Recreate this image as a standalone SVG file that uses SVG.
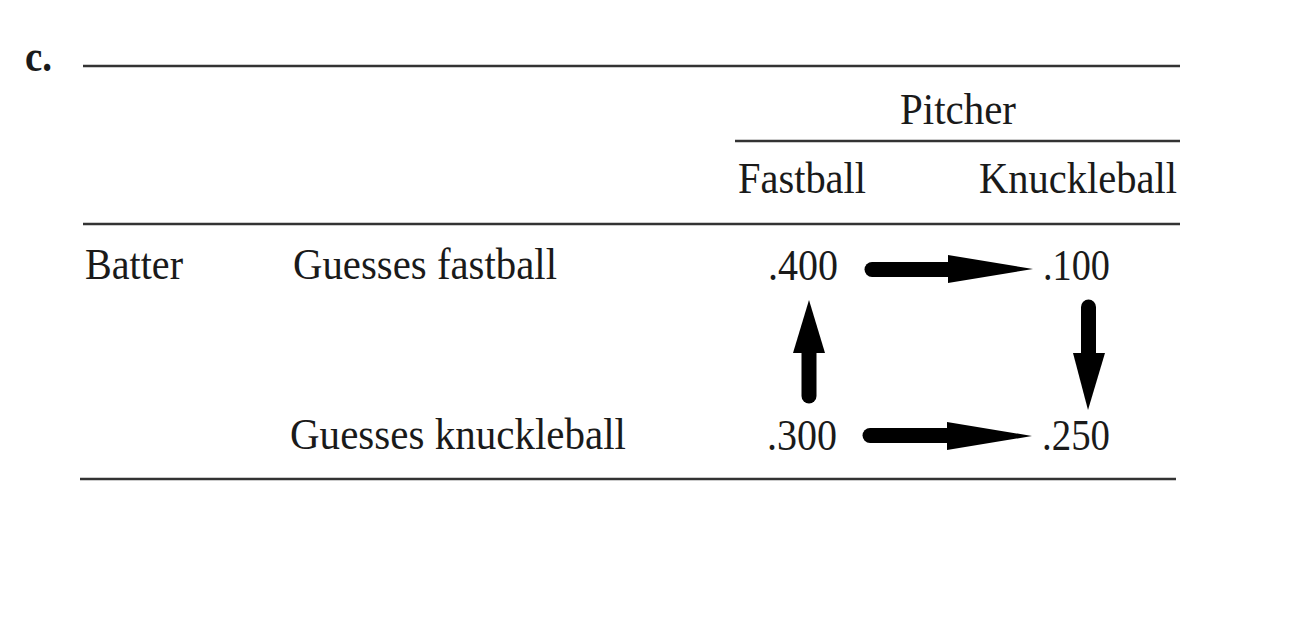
<svg xmlns="http://www.w3.org/2000/svg" width="1291" height="627" viewBox="0 0 1291 627">
<style>
text{font-family:"Liberation Serif","Times New Roman",serif;font-size:44px;fill:#1a1a1a}
.rule{stroke:#333;stroke-width:2.5}
.shaft{stroke:#000;stroke-width:15;stroke-linecap:round}
.head{fill:#000}
</style>
<rect width="1291" height="627" fill="#fff"/>
<g id="title"><text x="25" y="71" font-weight="bold" textLength="27" lengthAdjust="spacingAndGlyphs">c.</text></g>
<g id="rules">
<line class="rule" x1="83" y1="66" x2="1180" y2="66"/>
<line class="rule" x1="735" y1="141" x2="1180" y2="141"/>
<line class="rule" x1="83" y1="224" x2="1180" y2="224"/>
<line class="rule" x1="80" y1="479" x2="1176" y2="479"/>
</g>
<g id="pitcher"><text x="900" y="124" textLength="116" lengthAdjust="spacingAndGlyphs">Pitcher</text></g>
<g id="col-fastball"><text x="738" y="193" textLength="128" lengthAdjust="spacingAndGlyphs">Fastball</text></g>
<g id="col-knuckleball"><text x="979" y="193" textLength="198" lengthAdjust="spacingAndGlyphs">Knuckleball</text></g>
<g id="batter"><text x="85" y="279" textLength="98" lengthAdjust="spacingAndGlyphs">Batter</text></g>
<g id="row-fastball"><text x="293" y="279" textLength="264" lengthAdjust="spacingAndGlyphs">Guesses fastball</text></g>
<g id="row-knuckleball"><text x="290" y="449" textLength="336" lengthAdjust="spacingAndGlyphs">Guesses knuckleball</text></g>
<g id="v400"><text x="768" y="280" textLength="70" lengthAdjust="spacingAndGlyphs">.400</text></g>
<g id="v100"><text x="1043" y="280" textLength="67" lengthAdjust="spacingAndGlyphs">.100</text></g>
<g id="v300"><text x="767" y="450" textLength="70" lengthAdjust="spacingAndGlyphs">.300</text></g>
<g id="v250"><text x="1042" y="450" textLength="68" lengthAdjust="spacingAndGlyphs">.250</text></g>
<g id="connectors">
<line class="shaft" x1="872" y1="269.5" x2="950" y2="269.5"/>
<polygon class="head" points="948,255 1033,269 948,283"/>
<line class="shaft" x1="870" y1="435.5" x2="950" y2="435.5"/>
<polygon class="head" points="947,422 1032,436 947,450"/>
<line class="shaft" x1="809" y1="396" x2="809" y2="350"/>
<polygon class="head" points="793,353 809,300 825,353"/>
<line class="shaft" x1="1088.5" y1="307" x2="1088.5" y2="356"/>
<polygon class="head" points="1073,353 1088,410 1105,353"/>
</g>
</svg>
